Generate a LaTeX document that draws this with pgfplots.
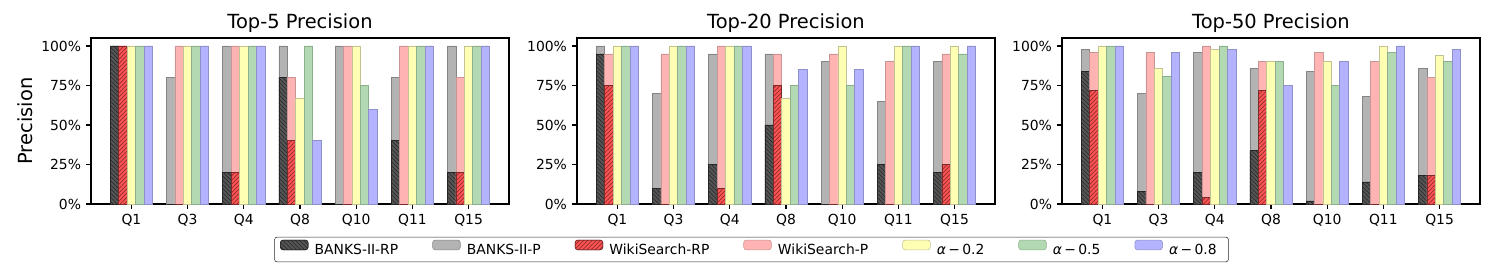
\documentclass[border=0pt]{standalone}
\usepackage{fontspec}
\setmainfont{DejaVu Sans}
\usepackage{pgfplots}
\usepackage{pgfplotstable}
\pgfplotsset{compat=1.18}
\usetikzlibrary{patterns}

\definecolor{bp}{HTML}{B3B3B3}
\definecolor{bpe}{HTML}{858585}
\definecolor{brp}{HTML}{555555}
\definecolor{wp}{HTML}{FFB3B3}
\definecolor{wpe}{HTML}{C89595}
\definecolor{wrp}{HTML}{FF5252}
\definecolor{wrpe}{HTML}{7A2A2A}
\definecolor{aa}{HTML}{FFFFB3}
\definecolor{aae}{HTML}{C2C295}
\definecolor{ab}{HTML}{B3D9B3}
\definecolor{abe}{HTML}{8DAF8D}
\definecolor{ac}{HTML}{B3B3FF}
\definecolor{ace}{HTML}{9090C8}

\pgfplotstableread{
x bp brp wp wrp a2 a5 a8
0 100 100 100 100 100 100 100
1 80 0 100 0 100 100 100
2 100 20 100 20 100 100 100
3 100 80 80 40 66.7 100 40
4 100 0 100 0 100 75 60
5 80 40 100 0 100 100 100
6 100 20 80 20 100 100 100
}\topfive

\pgfplotstableread{
x bp brp wp wrp a2 a5 a8
0 100 95 95 75 100 100 100
1 70 10 95 0 100 100 100
2 95 25 100 10 100 100 100
3 95 50 95 75 66.7 75 85
4 90 0 95 0 100 75 85
5 65 25 90 0 100 100 100
6 90 20 95 25 100 95 100
}\toptwenty

\pgfplotstableread{
x bp brp wp wrp a2 a5 a8
0 98 84 96 72 100 100 100
1 70 8 96 0 86 81 96
2 96 20 100 4 98 100 98
3 86 34 90 72 90 90 75
4 84 2 96 0 90 75 90
5 68 14 90 0 100 96 100
6 86 18 80 18 94 90 98
}\topfifty

\pgfplotsset{
  mybar/.style={ybar, bar width=0.15, forget plot, line width=0.5pt},
  sBP/.style={mybar, bar shift=-0.3, fill=bp, draw=bpe},
  sBRP/.style={mybar, bar shift=-0.3, fill=brp, draw=black!85, postaction={pattern=north west lines, pattern color=black!85}},
  sWP/.style={mybar, bar shift=-0.15, fill=wp, draw=wpe},
  sWRP/.style={mybar, bar shift=-0.15, fill=wrp, draw=wrpe, postaction={pattern=north east lines, pattern color=wrpe}},
  sA/.style={mybar, bar shift=0, fill=aa, draw=aae},
  sB/.style={mybar, bar shift=0.15, fill=ab, draw=abe},
  sC/.style={mybar, bar shift=0.3, fill=ac, draw=ace},
  panel/.style={
    scale only axis, width=301pt, height=119.5pt, anchor=south west,
    xmin=-0.72, xmax=6.72, ymin=0, ymax=105,
    xtick={0,1,2,3,4,5,6},
    xticklabels={Q1,Q3,Q4,Q8,Q10,Q11,Q15},
    ytick={0,25,50,75,100},
    yticklabels={0\%,25\%,50\%,75\%,100\%},
    tick align=outside, major tick length=3.5pt,
    xtick pos=bottom, ytick pos=left,
    every tick/.style={black, line width=0.8pt},
    axis line style={line width=0.8pt},
    tick label style={font=\fontsize{10}{12}\selectfont},
    yticklabel style={inner sep=0pt, xshift=-3.5pt},
    xticklabel style={inner sep=0pt, yshift=-3.5pt},
    title style={font=\fontsize{14}{16}\selectfont, yshift=-5.5pt},
    legend image code/.code={\draw[##1] (0pt,0.2pt) rectangle (20pt,7.2pt);},
  },
}

\begin{document}
\begin{tikzpicture}
\path[use as bounding box] (0,0) rectangle (1080pt,194.4pt);

\begin{axis}[panel, at={(65.5pt,47.5pt)}, title={Top-5 Precision},
  ylabel={Precision},
  every axis y label/.style={at={(axis description cs:-0.158,0.5)}, rotate=90, anchor=center, font=\fontsize{14}{16}\selectfont}]
\addplot[sBP] table[x=x,y=bp]{\topfive};
\addplot[sBRP] table[x=x,y=brp]{\topfive};
\addplot[sWP] table[x=x,y=wp]{\topfive};
\addplot[sWRP] table[x=x,y=wrp]{\topfive};
\addplot[sA] table[x=x,y=a2]{\topfive};
\addplot[sB] table[x=x,y=a5]{\topfive};
\addplot[sC] table[x=x,y=a8]{\topfive};
\end{axis}

\begin{axis}[panel, at={(415.4pt,47.5pt)}, title={Top-20 Precision},
  legend columns=7,
  legend style={at={(0.4175,-0.274)}, anchor=center, draw=black!85, rounded corners=2pt,
    font=\fontsize{10}{12}\selectfont, inner xsep=4pt, inner ysep=2pt,
    /tikz/every even column/.append style={column sep=20pt},
    nodes={inner xsep=4.5pt}},
  legend cell align=left]
\addplot[sBP] table[x=x,y=bp]{\toptwenty};
\addplot[sBRP] table[x=x,y=brp]{\toptwenty};
\addplot[sWP] table[x=x,y=wp]{\toptwenty};
\addplot[sWRP] table[x=x,y=wrp]{\toptwenty};
\addplot[sA] table[x=x,y=a2]{\toptwenty};
\addplot[sB] table[x=x,y=a5]{\toptwenty};
\addplot[sC] table[x=x,y=a8]{\toptwenty};
\addlegendimage{fill=brp, draw=black!85, postaction={pattern=north west lines, pattern color=black!85}}
\addlegendentry{BANKS-II-RP}
\addlegendimage{fill=bp, draw=bpe}
\addlegendentry{BANKS-II-P}
\addlegendimage{fill=wrp, draw=wrpe, postaction={pattern=north east lines, pattern color=wrpe}}
\addlegendentry{WikiSearch-RP}
\addlegendimage{fill=wp, draw=wpe}
\addlegendentry{WikiSearch-P}
\addlegendimage{fill=aa, draw=aae}
\addlegendentry{{\itshape α}\,−\,0.2}
\addlegendimage{fill=ab, draw=abe}
\addlegendentry{{\itshape α}\,−\,0.5}
\addlegendimage{fill=ac, draw=ace}
\addlegendentry{{\itshape α}\,−\,0.8}
\end{axis}

\begin{axis}[panel, at={(764.6pt,47.5pt)}, title={Top-50 Precision}]
\addplot[sBP] table[x=x,y=bp]{\topfifty};
\addplot[sBRP] table[x=x,y=brp]{\topfifty};
\addplot[sWP] table[x=x,y=wp]{\topfifty};
\addplot[sWRP] table[x=x,y=wrp]{\topfifty};
\addplot[sA] table[x=x,y=a2]{\topfifty};
\addplot[sB] table[x=x,y=a5]{\topfifty};
\addplot[sC] table[x=x,y=a8]{\topfifty};
\end{axis}
\end{tikzpicture}
\end{document}
